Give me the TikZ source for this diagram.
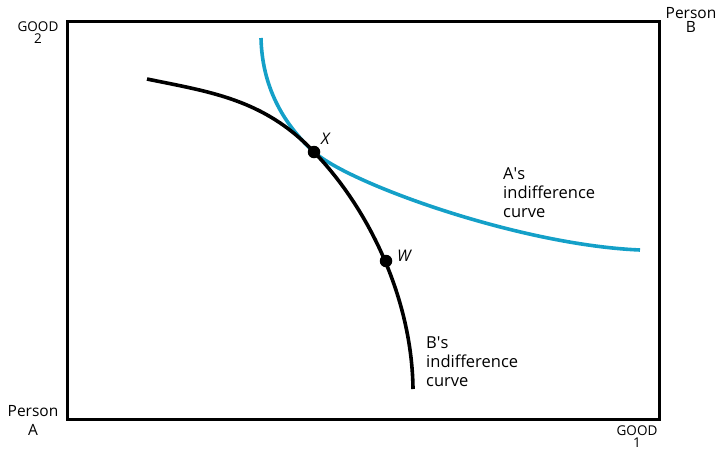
\documentclass[tikz,border=0pt]{standalone}
\usepackage{fontspec}
\setmainfont{Open Sans}
\definecolor{curveblue}{RGB}{20,160,200}
\begin{document}
\begin{tikzpicture}[x=1pt,y=-1pt,
  boxline/.style={line width=3pt},
  curveline/.style={line width=3.6pt},
  dot/.style={circle,fill=black,inner sep=0pt,minimum size=12.5pt},
  lbl/.style={inner sep=0pt,font=\fontsize{16.5}{19}\selectfont},
  small/.style={inner sep=0pt,font=\fontsize{13.5}{12}\selectfont,align=center}]
\useasboundingbox (0,0) rectangle (719,450);
\coordinate (bl) at (67,419);
\coordinate (tr) at (659,21);
\draw[boxline] (bl) rectangle (tr);
% points
\coordinate (Xp) at (314,152);
\coordinate (Wp) at (386,261);
\coordinate (bs) at (147,79);
\coordinate (be) at (413,389);
\coordinate (cs) at (261,38);
\coordinate (ce) at (640,250);
% curves
\draw[curveline,curveblue] (cs) .. controls (262,85) and (282,123) .. (Xp)
  .. controls (350,184) and (520,245) .. (ce);
\draw[curveline,black] (bs) .. controls (210,92) and (264,99) .. (Xp)
  .. controls (370,210) and (412,300) .. (be);
\node[dot] (X) at (Xp) {};
\node[dot] (W) at (Wp) {};
\node[lbl,anchor=west,font=\fontsize{16}{19}\selectfont\itshape] (Xl) at (321,139) {X};
\node[lbl,anchor=west,font=\fontsize{16}{19}\selectfont\itshape] (Wl) at (397,256) {W};
\node[lbl,align=left,anchor=north west] (Alab) at (503,167) {A\textquotesingle s\\indifference\\curve};
\node[lbl,align=left,anchor=north west] (Blab) at (426,337) {B\textquotesingle s\\indifference\\curve};
\node[small,anchor=north] (g2) at (38,22) {GOOD\\2};
\node[small,anchor=north] (g1) at (637,426) {GOOD\\1};
\node[lbl,align=center,anchor=north,font=\fontsize{15.5}{14}\selectfont] (pB) at (691,7) {Person\\B};
\node[lbl,align=center,anchor=north,font=\fontsize{15.5}{19}\selectfont] (pA) at (33,405) {Person\\A};
\end{tikzpicture}
\end{document}
